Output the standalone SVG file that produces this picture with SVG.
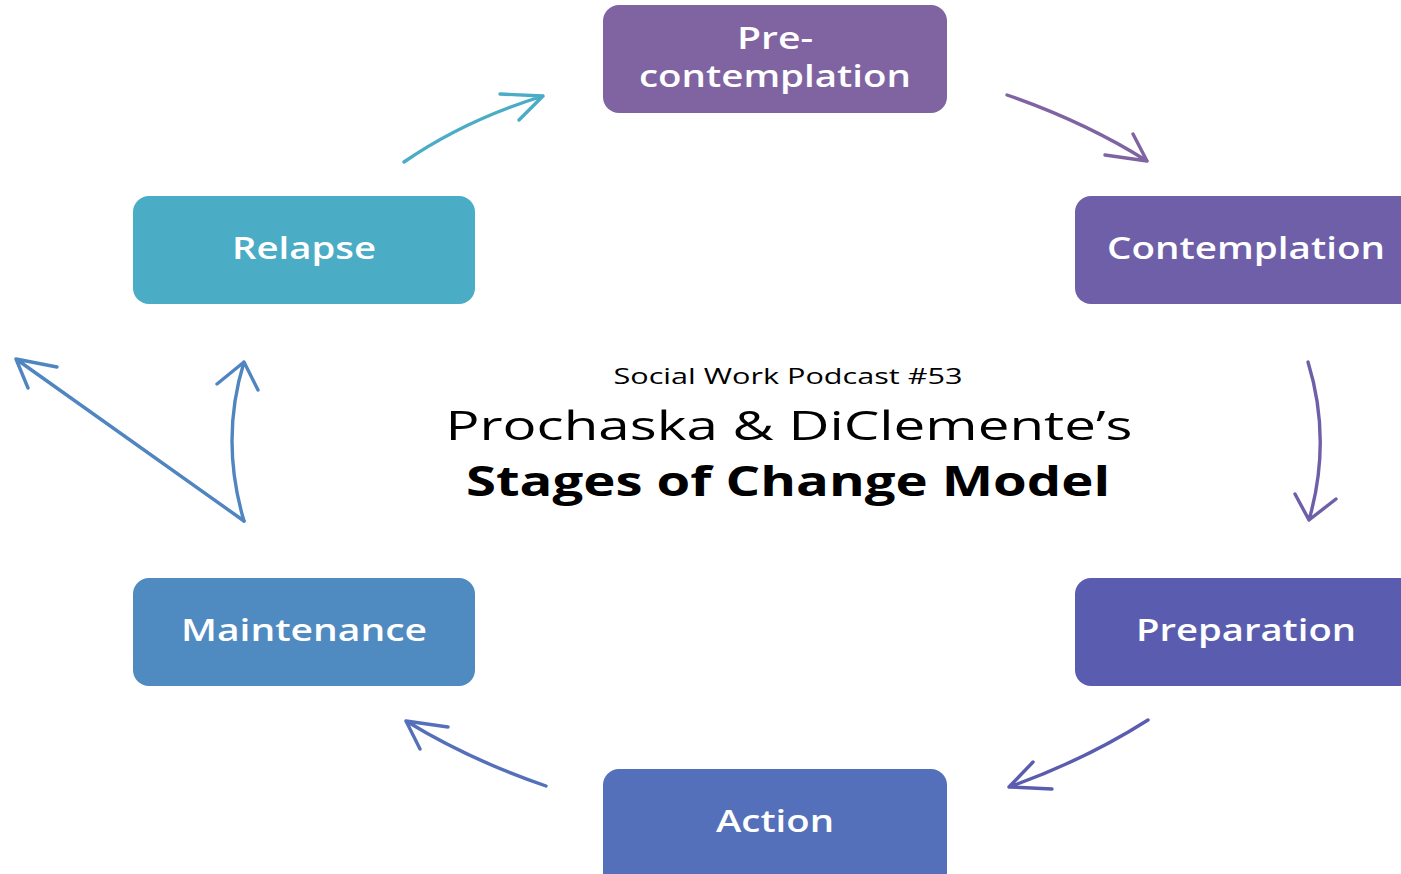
<svg xmlns="http://www.w3.org/2000/svg" width="1401" height="874" viewBox="0 0 1401 874">
<style>
.box{stroke:none}
.lbl{font-family:"Open Sans","Liberation Sans",sans-serif;font-weight:600;font-size:31px;fill:#fff;text-anchor:middle}
.arr{fill:none;stroke-width:3.4;stroke-linecap:round;stroke-linejoin:round}
.t{font-family:"Open Sans","Liberation Sans",sans-serif;fill:#000;text-anchor:middle}
</style>
<rect width="1401" height="874" fill="#fff"/>
<g id="precontemplation">
<rect class="box" x="603" y="5" width="344" height="108" rx="16" fill="#8064A2"/>
<text class="lbl" x="775" y="49" font-size="27" textLength="76" lengthAdjust="spacingAndGlyphs">Pre-</text>
<text class="lbl" x="775" y="87" font-size="27" textLength="272" lengthAdjust="spacingAndGlyphs">contemplation</text>
</g>
<g id="contemplation">
<rect class="box" x="1075" y="196" width="350" height="108" rx="16" fill="#6E5FA8"/>
<text class="lbl" x="1246" y="259" textLength="278" lengthAdjust="spacingAndGlyphs">Contemplation</text>
</g>
<g id="preparation">
<rect class="box" x="1075" y="578" width="350" height="108" rx="16" fill="#5A5DAF"/>
<text class="lbl" x="1246" y="641" textLength="220" lengthAdjust="spacingAndGlyphs">Preparation</text>
</g>
<g id="action">
<rect class="box" x="603" y="769" width="344" height="120" rx="16" fill="#5470BA"/>
<text class="lbl" x="775" y="832" textLength="118" lengthAdjust="spacingAndGlyphs">Action</text>
</g>
<g id="maintenance">
<rect class="box" x="133" y="578" width="342" height="108" rx="16" fill="#4F8BC1"/>
<text class="lbl" x="304" y="641" textLength="246" lengthAdjust="spacingAndGlyphs">Maintenance</text>
</g>
<g id="relapse">
<rect class="box" x="133" y="196" width="342" height="108" rx="16" fill="#4BACC6"/>
<text class="lbl" x="304" y="259" textLength="144" lengthAdjust="spacingAndGlyphs">Relapse</text>
</g>
<g id="title">
<text class="t" x="788" y="384" font-size="22" textLength="349" lengthAdjust="spacingAndGlyphs">Social Work Podcast #53</text>
<text class="t" x="789" y="440" font-size="41" textLength="687" lengthAdjust="spacingAndGlyphs">Prochaska &amp; DiClemente’s</text>
<text class="t" x="788" y="496" font-size="41" font-weight="bold" textLength="644" lengthAdjust="spacingAndGlyphs">Stages of Change Model</text>
</g>
<g id="connectors">
<path class="arr" stroke="#4BACC6" d="M404,162 Q465,120 543,96 M500,94 L543,96 L519,120"/>
<path class="arr" stroke="#8064A2" d="M1007,95 Q1085,122 1147,161 M1133,134 L1147,161 L1105,155"/>
<path class="arr" stroke="#6E5FA8" d="M1308,362 Q1332,440 1309,520 M1295,494 L1309,520 L1336,499"/>
<path class="arr" stroke="#5A5DAF" d="M1148,720 Q1085,760 1009,787 M1033,762 L1009,787 L1052,789"/>
<path class="arr" stroke="#5470BA" d="M546,786 Q470,760 406,721 M448,727 L406,721 L420,749"/>
<path class="arr" stroke="#4F85C0" d="M244,521 Q220,440 244,362 M217,384 L244,362 L258,390"/>
<path class="arr" stroke="#4F85C0" d="M244,521 L16,359 M57,367 L16,359 L28,388"/>
</g>
</svg>
